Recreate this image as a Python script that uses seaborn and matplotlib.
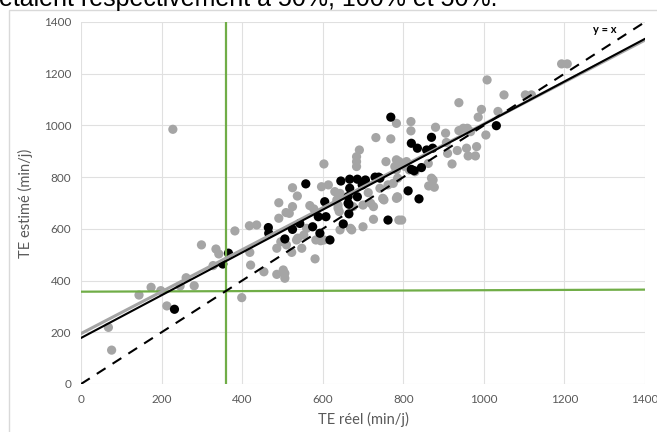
import matplotlib
matplotlib.use("Agg")
import matplotlib.pyplot as plt
import seaborn as sns
import pandas as pd
import numpy as np

# ---- data ----
gray_x = [68, 76, 144, 174, 198, 213, 246, 261, 281, 299, 335, 342, 328, 382, 399, 228,
          418, 436, 419, 421, 454, 486, 506, 506, 502, 491, 525, 537, 525, 509, 491,
          496, 510, 538, 560, 583, 595, 523, 581, 486, 603, 684, 684, 691, 684, 732,
          769, 783, 757, 779, 783, 597, 614, 630, 643, 635, 568, 578, 638, 641, 675,
          726, 726, 749, 785, 669, 789, 713,
          517, 535, 548, 638, 643, 672, 700, 700, 719, 553, 603, 804, 815, 829, 752, 783,
          1008, 1050, 1103, 1118, 938, 994, 986, 1035, 819, 819, 880, 905, 938, 949,
          959, 967, 1005, 783, 790, 808, 907, 910, 934, 957, 982, 961, 979, 921, 862,
          863, 874, 877, 870, 786, 775, 762, 742, 750, 786, 796, 1193, 1207]
gray_y = [219, 131, 344, 374, 361, 302, 379, 411, 380, 538, 522, 503, 458, 592, 334, 985,
          612, 615, 509, 460, 434, 424, 428, 409, 441, 701, 759, 727, 686, 663, 641,
          550, 538, 564, 602, 557, 554, 509, 484, 525, 851, 860, 841, 905, 879, 953,
          948, 1008, 860, 841, 828, 763, 770, 744, 737, 712, 690, 677, 692, 667, 686,
          686, 637, 718, 724, 602, 634, 740,
          660, 557, 525, 680, 596, 596, 608, 692, 699, 576, 557, 841, 828, 821, 712, 718,
          1176, 1118, 1118, 1118, 1088, 1062, 1032, 1054, 1015, 979, 993, 970, 980, 989,
          989, 976, 963, 867, 860, 860, 934, 892, 903, 912, 918, 882, 882, 851, 853,
          766, 789, 761, 796, 796, 776, 770, 757, 716, 722, 634, 1238, 1238]

black_x = [232, 366, 352, 769, 558, 465, 466, 506, 525, 543, 575, 593, 618, 589, 608,
           605, 651, 665, 665, 645, 667, 667, 686, 706, 686, 698, 739, 762, 820, 835,
           870, 858, 873, 820, 827, 845, 812, 839, 1031, 742, 730, 663, 663]
black_y = [289, 506, 464, 1032, 774, 605, 583, 561, 598, 621, 608, 583, 557, 647, 647,
           705, 619, 658, 695, 785, 792, 757, 792, 789, 724, 770, 800, 634, 931, 912,
           954, 905, 912, 830, 825, 837, 747, 716, 999, 796, 800, 725, 699]

# fitted lines (value at x=0, value at x=1400)
x_range = [0, 1400]
gray_fit = [195, 1330]
black_fit = [178, 1335]
identity = [0, 1400]
threshold_x = 360
threshold_h = [357, 365]

x_ticks = [0, 200, 400, 600, 800, 1000, 1200, 1400]
y_ticks = [0, 200, 400, 600, 800, 1000, 1200, 1400]

GRAY = "#a5a5a5"
GREEN = "#70ad47"
TXT = "#595959"

sns.set_theme(style="white")
plt.rcParams["font.family"] = ["Lato", "DejaVu Sans"]

fig = plt.figure(figsize=(6.57, 4.32), dpi=100)
ax = fig.add_axes([81 / 657, 1 - 384 / 432, (645 - 81) / 657, (384 - 22) / 432])

# chart frame and clipped caption line
fig.patches.append(plt.Rectangle((9 / 657, -0.1), 1.2, 1 - 10 / 432 + 0.1,
                                 transform=fig.transFigure, fill=False,
                                 edgecolor="#d9d9d9", linewidth=1, zorder=0))
fig.text(-0.002, 1 - 6 / 432, "étaient respectivement à 50%, 100% et 50%.",
         fontsize=18, color="black", ha="left", va="baseline",
         family=["Liberation Sans", "DejaVu Sans"])

gray_df = pd.DataFrame({"x": gray_x, "y": gray_y})
black_df = pd.DataFrame({"x": black_x, "y": black_y})

sns.scatterplot(data=gray_df, x="x", y="y", ax=ax, color=GRAY, s=44,
                edgecolor="none", zorder=3)
sns.scatterplot(data=black_df, x="x", y="y", ax=ax, color="black", s=44,
                edgecolor="none", zorder=4)

# threshold lines
sns.lineplot(x=[threshold_x, threshold_x], y=[y_ticks[0], y_ticks[-1]], ax=ax,
             color=GREEN, linewidth=1.6, zorder=5, estimator=None, sort=False)
sns.lineplot(x=x_range, y=threshold_h, ax=ax, color=GREEN, linewidth=1.6,
             zorder=5, estimator=None)

# regression lines and identity
sns.lineplot(x=x_range, y=gray_fit, ax=ax, color=GRAY, linewidth=2.2, zorder=6,
             estimator=None)
sns.lineplot(x=x_range, y=black_fit, ax=ax, color="black", linewidth=1.5, zorder=7,
             estimator=None)
sns.lineplot(x=x_range, y=identity, ax=ax, color="black", linewidth=1.5, zorder=7,
             estimator=None, linestyle=(0, (5, 4)))
ax.text(1300, 1370, "y = x", fontsize=8, color="black", fontweight="bold",
        ha="center", va="center", zorder=8)

ax.set_xlim(0, 1400)
ax.set_ylim(0, 1400)
ax.set_xticks(x_ticks)
ax.set_yticks(y_ticks)
ax.grid(True, color="#e0e0e0", linewidth=0.8)
ax.set_axisbelow(True)
for s in ax.spines.values():
    s.set_visible(False)
ax.tick_params(axis="both", length=0, labelsize=8.5, colors=TXT, pad=7)
ax.set_xlabel("TE réel (min/j)", fontsize=10.5, color=TXT, labelpad=5)
ax.set_ylabel("TE estimé (min/j)", fontsize=10.5, color=TXT, labelpad=8)

fig.savefig("out.png", dpi=100)
